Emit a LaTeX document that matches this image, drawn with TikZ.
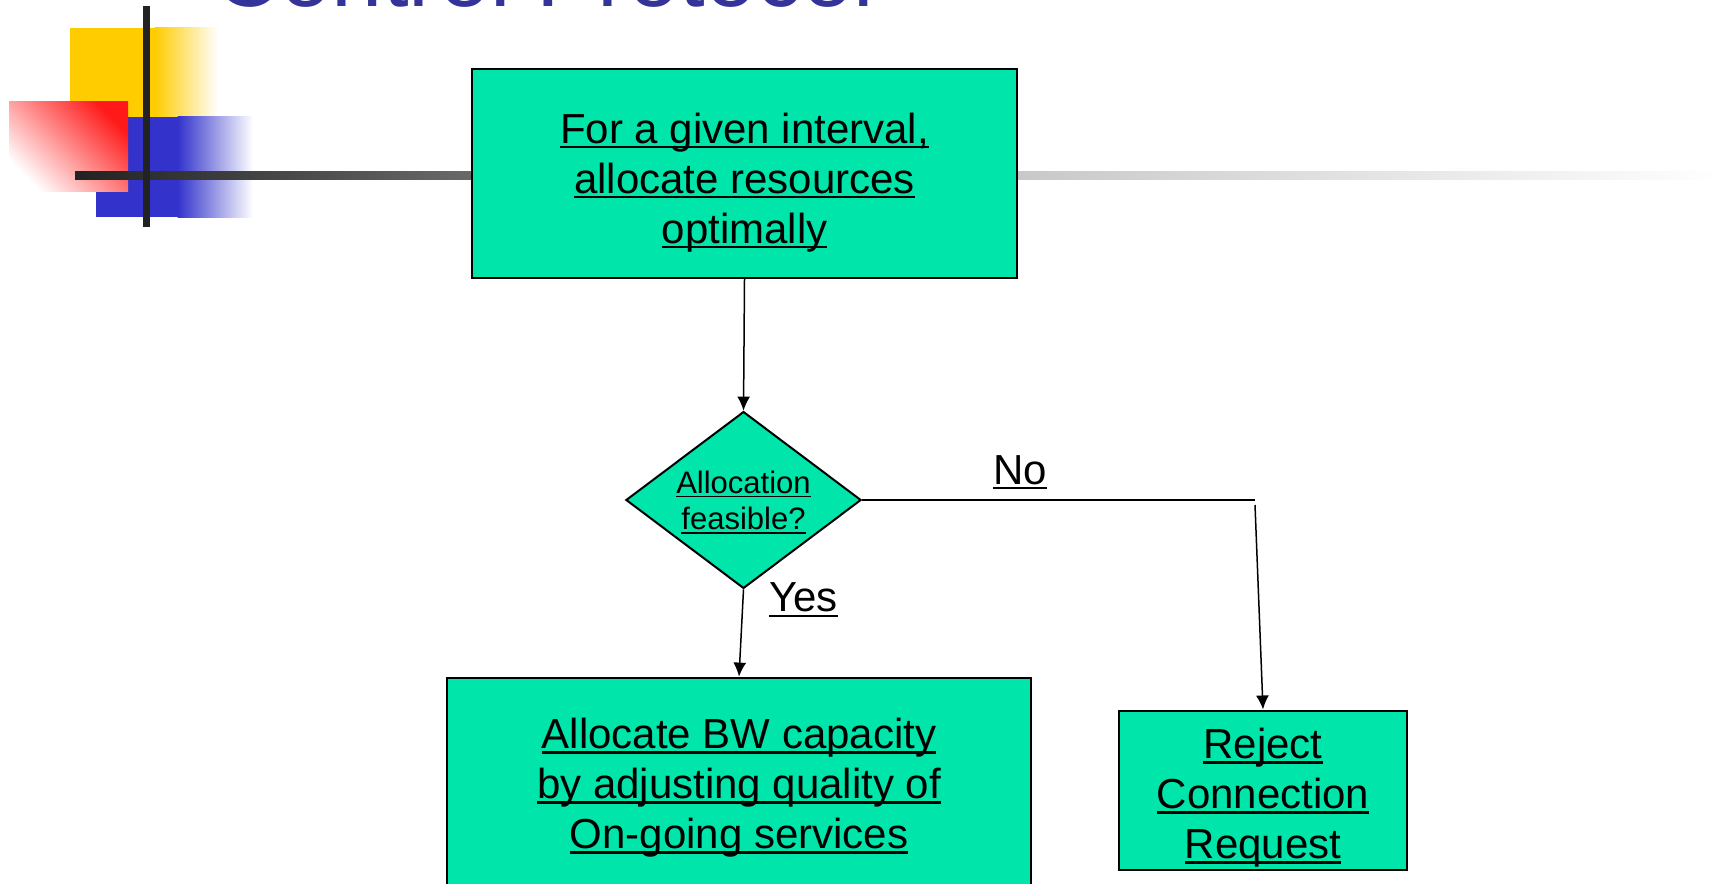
\documentclass[tikz,border=0pt]{standalone}
\usepackage{fontspec}
\setmainfont{Liberation Sans}
\usetikzlibrary{shapes.geometric,arrows.meta}
\definecolor{mint}{RGB}{0,229,170}
\definecolor{titleblue}{RGB}{51,51,153}
\definecolor{sqyellow}{RGB}{255,204,0}
\definecolor{sqblue}{RGB}{51,51,204}
\definecolor{sqred}{RGB}{255,25,25}
\definecolor{bardark}{RGB}{34,34,34}
\definecolor{barmid}{RGB}{105,105,105}
\definecolor{barlight}{RGB}{200,200,200}
% long rule of the ornament: dark on the left, fading to white on the right
\pgfdeclarehorizontalshading{barfade}{100bp}{color(0bp)=(bardark); color(25bp)=(bardark);
  color(37bp)=(barmid); color(53.6bp)=(barlight); color(75bp)=(white); color(100bp)=(white)}
% underline that sits just below the baseline (crossing descenders)
\newcommand\ulx[1]{\leavevmode\setbox0=\hbox{#1}\rlap{\rule[-0.13em]{\wd0}{0.055em}}\box0}
% invisible struts fixing the extent of a text block
\newcommand\tstrut[1]{\rule{0pt}{#1}}
\newcommand\bstrut[1]{\rule[-#1]{0pt}{#1}}
\tikzset{
  procbox/.style={draw=black, line width=1pt, fill=mint, align=center,
    font=\fontsize{21}{25}\selectfont, inner sep=0pt},
  decision/.style={diamond, draw=black, line width=1pt, fill=mint, align=center,
    font=\fontsize{15.5}{18.3}\selectfont, inner sep=0pt, aspect=1.33},
  flow/.style={line width=0.75pt, -{Latex[length=7pt,width=6.5pt]}},
  plainline/.style={line width=0.75pt},
  branchlabel/.style={font=\fontsize{21}{25}\selectfont, inner sep=0pt, anchor=base},
}
\begin{document}
\begin{tikzpicture}[x=0.5pt,y=-0.5pt]
\useasboundingbox (0,0) rectangle (1722,883);
\clip (0,0) rectangle (1722,883);

% slide title
\node[anchor=base west, font=\fontsize{46}{50}\selectfont, text=titleblue, inner sep=0pt]
  (title) at (214,7) {Control Protocol};

% corner ornament: coloured squares and crossing bars
\fill[sqyellow] (70,28) rectangle (155,117);
\shade[left color=sqyellow, right color=white] (154.5,28) rectangle (218,117);
\fill[sqblue] (96,117) rectangle (178,217);
\shade[left color=sqblue, right color=white] (177.5,117) rectangle (253,217);
\shade[bottom color=white, top color=sqred, shading angle=-45] (9,102) rectangle (128,191);
\shade[shading=barfade] (75,171) rectangle (1722,179);
\fill[bardark] (143,6) rectangle (150,227);

% flowchart
\node[procbox, minimum width=272.5pt, minimum height=104.5pt] (alloc) at (744.5,173.5)
  {\ulx{For a given interval,}\tstrut{24.5pt}\\\ulx{allocate resources}\\\ulx{optimally}\bstrut{5pt}};
\node[decision, minimum width=117pt, minimum height=88pt] (feas) at (743.5,500)
  {\ulx{Allocation}\tstrut{15.6pt}\\\ulx{feasible?}\bstrut{4pt}};
\node[procbox, minimum width=292pt, minimum height=108.4pt] (adjust) at (739,786)
  {\ulx{Allocate BW capacity}\tstrut{17.3pt}\\\ulx{by adjusting quality of}\\\ulx{On-going services}\bstrut{5pt}};
\node[procbox, minimum width=144pt, minimum height=79.75pt] (reject) at (1263,790.25)
  {\ulx{Reject}\tstrut{23pt}\\\ulx{Connection}\\\ulx{Request}\bstrut{5pt}};

\coordinate (nocorner) at (1255,500);
\coordinate (nodown) at (1255,505);

\draw[flow] (alloc.south) -- (feas.north);
\draw[flow] (feas.south) -- (adjust.north);
\draw[plainline] (feas.east) -- (nocorner);
\draw[flow] (nodown) -- (reject.north);

\node[branchlabel] (nolabel) at (1020,484) {\ulx{No}};
\node[branchlabel] (yeslabel) at (803.5,611.5) {\ulx{Yes}};
\end{tikzpicture}
\end{document}
